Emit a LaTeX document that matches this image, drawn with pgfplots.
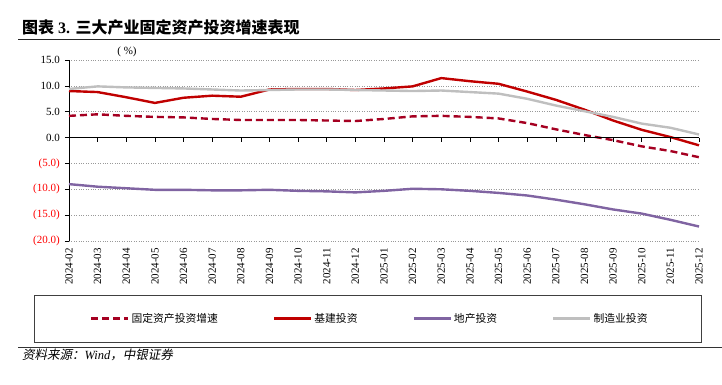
\documentclass[border=0pt]{standalone}
\usepackage{fontspec}
\setmainfont{Liberation Serif}
\newfontfamily\cjk{Noto Sans CJK SC}
\newfontfamily\cjkit[FakeSlant=0.2]{Noto Sans CJK SC}
\usepackage{pgfplots}
\pgfplotsset{compat=1.18}
\definecolor{cFAI}{HTML}{A50021}
\definecolor{cInf}{HTML}{C00000}
\definecolor{cRE}{HTML}{8064A2}
\definecolor{cMfg}{HTML}{BFBFBF}
\definecolor{cNeg}{HTML}{FF0000}
\begin{document}
\begin{tikzpicture}
\useasboundingbox (0pt,0pt) rectangle (722pt,384pt);
% title
\node[anchor=base west, inner sep=0pt] at (22pt,351pt) {\fontsize{16}{18}\selectfont{\cjk\bfseries 图表} \textbf{3.} {\cjk\bfseries 三大产业固定资产投资增速表现}};
\draw[line width=1pt, black!85] (18pt,345pt) -- (720pt,345pt);
% unit
\node[anchor=center, inner sep=0pt] at (127pt,332pt) {\fontsize{11}{13}\selectfont ( \%)};
\begin{axis}[
  at={(69pt,143pt)}, anchor=south west,
  scale only axis, width=630pt, height=181pt,
  xmin=0, xmax=22, ymin=-20, ymax=15,
  axis y line*=left, axis x line*=bottom,
  x axis line style={draw=none},
  y axis line style={line width=0.8pt, black},
  tick align=outside,
  major tick length=4pt,
  ytick={-20,-15,-10,-5,0,5,10,15},
  yticklabels={\textcolor{cNeg}{(20.0)},\textcolor{cNeg}{(15.0)},\textcolor{cNeg}{(10.0)},\textcolor{cNeg}{(5.0)},0.0,5.0,10.0,15.0},
  yticklabel style={font=\fontsize{11}{13}\selectfont, inner sep=0pt, xshift=-5pt},
  ytick style={line width=0.6pt, black},
  xtick={0,...,22},
  xticklabels={2024-02,2024-03,2024-04,2024-05,2024-06,2024-07,2024-08,2024-09,2024-10,2024-11,2024-12,2025-01,2025-02,2025-03,2025-04,2025-05,2025-06,2025-07,2025-08,2025-09,2025-10,2025-11,2025-12},
  xticklabel shift=3pt,
  xticklabel style={font=\fontsize{11}{13}\selectfont, rotate=90, anchor=east, inner sep=0pt},
  xtick style={draw=none},
  ymajorgrids,
  grid style={dotted, line width=0.6pt, gray!80},
  clip=false,
  legend columns=4,
  legend image code/.code={\draw[#1] (0pt,0pt) -- (37pt,0pt);},
  legend style={at={(axis description cs:0.0333,-0.428)}, anchor=west, draw=none, fill=none, inner sep=0pt,
    font=\cjk\fontsize{10.8}{12}\selectfont,
    nodes={inner sep=2pt},
    /tikz/every even column/.append style={column sep=53pt}},
]
\addplot[cFAI, line width=2.4pt, dash pattern=on 7pt off 4pt, line join=round] coordinates {
(0,4.2)(1,4.5)(2,4.2)(3,4.0)(4,3.9)(5,3.6)(6,3.4)(7,3.4)(8,3.4)(9,3.3)(10,3.2)(11,3.6)
(12,4.1)(13,4.2)(14,4.0)(15,3.7)(16,2.8)(17,1.6)(18,0.5)(19,-0.5)(20,-1.7)(21,-2.6)(22,-3.8)};
\addlegendentry{固定资产投资增速}
\addplot[cInf, line width=2.4pt, line join=round] coordinates {
(0,9.0)(1,8.8)(2,7.8)(3,6.7)(4,7.7)(5,8.1)(6,7.9)(7,9.3)(8,9.4)(9,9.4)(10,9.2)(11,9.5)
(12,9.9)(13,11.5)(14,10.9)(15,10.4)(16,8.9)(17,7.3)(18,5.4)(19,3.3)(20,1.5)(21,0.1)(22,-1.5)};
\addlegendentry{基建投资}
\addplot[cRE, line width=2.4pt, line join=round] coordinates {
(0,-9.0)(1,-9.5)(2,-9.8)(3,-10.1)(4,-10.1)(5,-10.2)(6,-10.2)(7,-10.1)(8,-10.3)(9,-10.4)(10,-10.6)(11,-10.3)
(12,-9.9)(13,-10.0)(14,-10.3)(15,-10.7)(16,-11.2)(17,-12.0)(18,-12.9)(19,-13.9)(20,-14.7)(21,-15.9)(22,-17.2)};
\addlegendentry{地产投资}
\addplot[cMfg, line width=2.4pt, line join=round] coordinates {
(0,9.4)(1,9.9)(2,9.7)(3,9.6)(4,9.5)(5,9.3)(6,9.1)(7,9.2)(8,9.3)(9,9.3)(10,9.2)(11,9.1)
(12,9.0)(13,9.1)(14,8.8)(15,8.5)(16,7.5)(17,6.2)(18,5.1)(19,4.0)(20,2.7)(21,1.9)(22,0.6)};
\addlegendentry{制造业投资}
% zero axis line with ticks
\draw[line width=0.8pt, black] (axis cs:0,0) -- (axis cs:22,0);
\pgfplotsinvokeforeach{1,...,22}{\draw[line width=0.6pt, black] (axis cs:#1,0) -- ++(0pt,-4pt);}
\end{axis}
% legend box and rules
\draw[line width=0.9pt, black!75] (34pt,42pt) rectangle (701pt,89pt);
\draw[line width=0.8pt, black!80] (18pt,37pt) -- (722pt,37pt);
\node[anchor=base west, inner sep=0pt] at (22pt,25pt) {\fontsize{12.5}{14}\selectfont{\cjkit 资料来源：}\textit{Wind}{\cjkit ，中银证券}};
\end{tikzpicture}
\end{document}
